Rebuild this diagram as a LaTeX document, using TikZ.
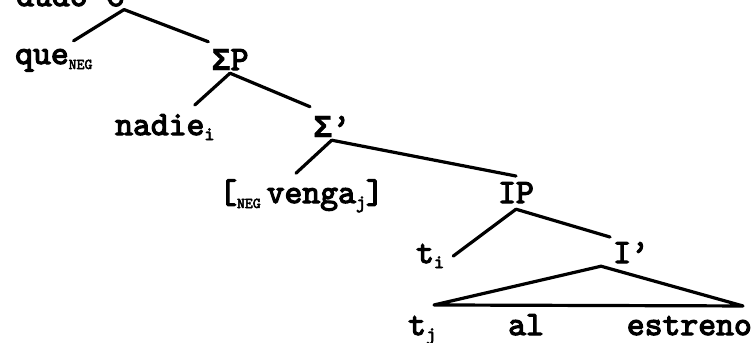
\documentclass[tikz,border=0pt]{standalone}
\usepackage{fontspec}
\newfontfamily\typer{lmmono10-regular.otf}[FakeBold=3.5]
\newfontfamily\greekmono{Liberation Mono}[FakeBold=1]
\newcommand{\subidx}[1]{\raisebox{-5pt}{\fontsize{19}{19}\selectfont #1}}
\newcommand{\subneg}{\raisebox{-5pt}{\fontsize{15}{15}\selectfont NEG}}
\newcommand{\sig}{{\greekmono\bfseries\fontsize{32}{36}\selectfont Σ}}
\tikzset{
	lab/.style={font=\typer\fontsize{34}{36}\selectfont, inner sep=3pt, anchor=base},
	branch/.style={line width=3.2pt, line cap=round, line join=round}
}
\begin{document}
\begin{tikzpicture}[x=1pt, y=-1pt]
		\useasboundingbox (0,0) rectangle (753,343);
		
		% C' and its daughters
		\node[lab] (dudo) at (52,6) {dudo};
		\node[lab, anchor=base west] (cbar) at (103,6) {C’};
		\node[lab, anchor=base west] (que) at (12,64) {que\subneg};
		\node[lab] (sp) at (230,70) {\sig P};
		\draw[branch] (cbar.south) -- ([shift={(-22pt,5pt)}]que.north east);
		\draw[branch] (cbar.south) -- ([yshift=4pt]sp.north west);
		
		% Sigma P
		\node[lab, anchor=base west] (nadie) at (112,135) {nadie\subidx{i}};
		\node[lab, anchor=base west] (sbar) at (310,137) {\sig’};
		\draw[branch] (sp.south) -- ([shift={(30pt,6pt)}]nadie.north);
		\draw[branch] (sp.south) -- ([yshift=6pt]sbar.north west);
		
		% Sigma'
		\node[lab, anchor=base west] (vneg) at (216,203) {[\subneg\hspace{6pt}venga\subidx{j}]};
		\node[lab] (ip) at (516,203) {IP};
		\draw[branch] (sbar.south) -- ([shift={(80pt,3pt)}]vneg.north west);
		\draw[branch] (sbar.south) -- ([yshift=3pt]ip.north);
		
		% IP and I'
		\node[lab, anchor=base west] (ti) at (413,263) {t\subidx{i}};
		\node[lab, anchor=base west] (ibar) at (610,263) {I’};
		\draw[branch] ([yshift=-3pt]ip.south) -- ([xshift=6pt]ti.east);
		\draw[branch] ([yshift=-3pt]ip.south) -- ([yshift=2pt]ibar.north west);
		
		% triangle over the VP
		\node[lab, anchor=base west] (tj) at (405,335) {t\subidx{j}};
		\node[lab, anchor=base west] (al) at (505,335) {al};
		\node[lab, anchor=base east] (estreno) at (755,335) {estreno};
		\draw[branch] ([xshift=-30pt]ibar.south) -- ([shift={(29pt,8pt)}]tj.north west)
			-- ([shift={(-12pt,7pt)}]estreno.north east) -- cycle;
	\end{tikzpicture}
\end{document}
